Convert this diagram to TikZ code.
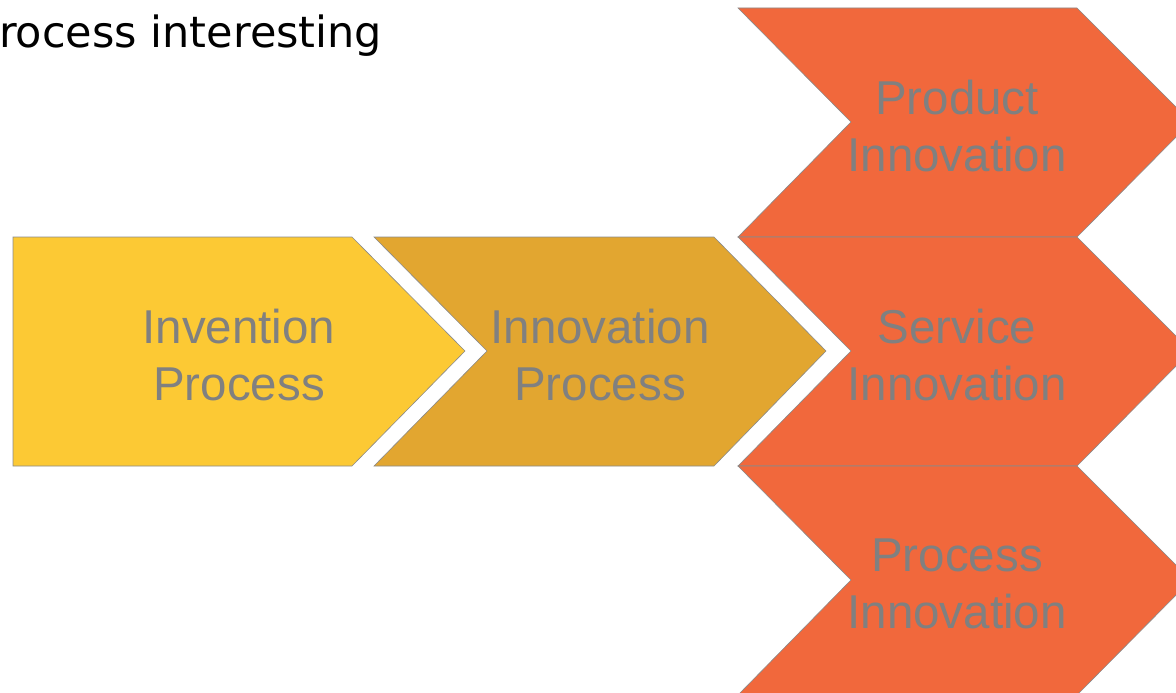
\documentclass[tikz,border=0pt]{standalone}
\usepackage{fontspec}
\setmainfont{Liberation Sans}
\newfontfamily\headfont{DejaVu Sans}
\definecolor{InventionFill}{HTML}{FCC934}
\definecolor{InnovationFill}{HTML}{E2A630}
\definecolor{TypeFill}{HTML}{F1683C}
\definecolor{EdgeGray}{HTML}{8A8A8A}
\definecolor{LabelGray}{HTML}{808080}
\tikzset{
    step shape/.style={draw=EdgeGray, line width=0.6pt, line join=miter},
    step label/.style={text=LabelGray, align=center, inner sep=0pt,
        font=\fontsize{47.5}{57}\selectfont},
    head text/.style={anchor=base west, inner sep=0pt,
        font=\headfont\fontsize{43}{50}\selectfont}
}

\begin{document}
\begin{tikzpicture}[x=1pt, y=-1pt]

    \useasboundingbox (0,0) rectangle (1176,693);
    \clip (0,0) rectangle (1176,693);

    \node[head text] (head) at (-1,48) {rocess interesting};

    % Invention und Innovation
    \draw[step shape, fill=InventionFill] (13,237) -- (352,237) -- (465,351)
        -- (352,466) -- (13,466) -- cycle;
    \draw[step shape, fill=InnovationFill] (374,237) -- (714,237) -- (826,351)
        -- (714,466) -- (374,466) -- (487,351) -- cycle;

    % Arten der Innovation
    \draw[step shape, fill=TypeFill] (738,8) -- (1077,8) -- (1191,122)
        -- (1077,237) -- (738,237) -- (851,122) -- cycle;
    \draw[step shape, fill=TypeFill] (738,237) -- (1077,237) -- (1191,351)
        -- (1077,466) -- (738,466) -- (851,351) -- cycle;
    \draw[step shape, fill=TypeFill] (738,466) -- (1077,466) -- (1191,580)
        -- (1077,695) -- (738,695) -- (851,580) -- cycle;

    \node[step label] (invention) at (239,355) {Invention\\Process};
    \node[step label] (innovation) at (600,355) {Innovation\\Process};
    \node[step label] (product) at (957,126) {Product\\Innovation};
    \node[step label] (service) at (957,355) {Service\\Innovation};
    \node[step label] (process) at (957,584) {Process\\Innovation};

\end{tikzpicture}
\end{document}
